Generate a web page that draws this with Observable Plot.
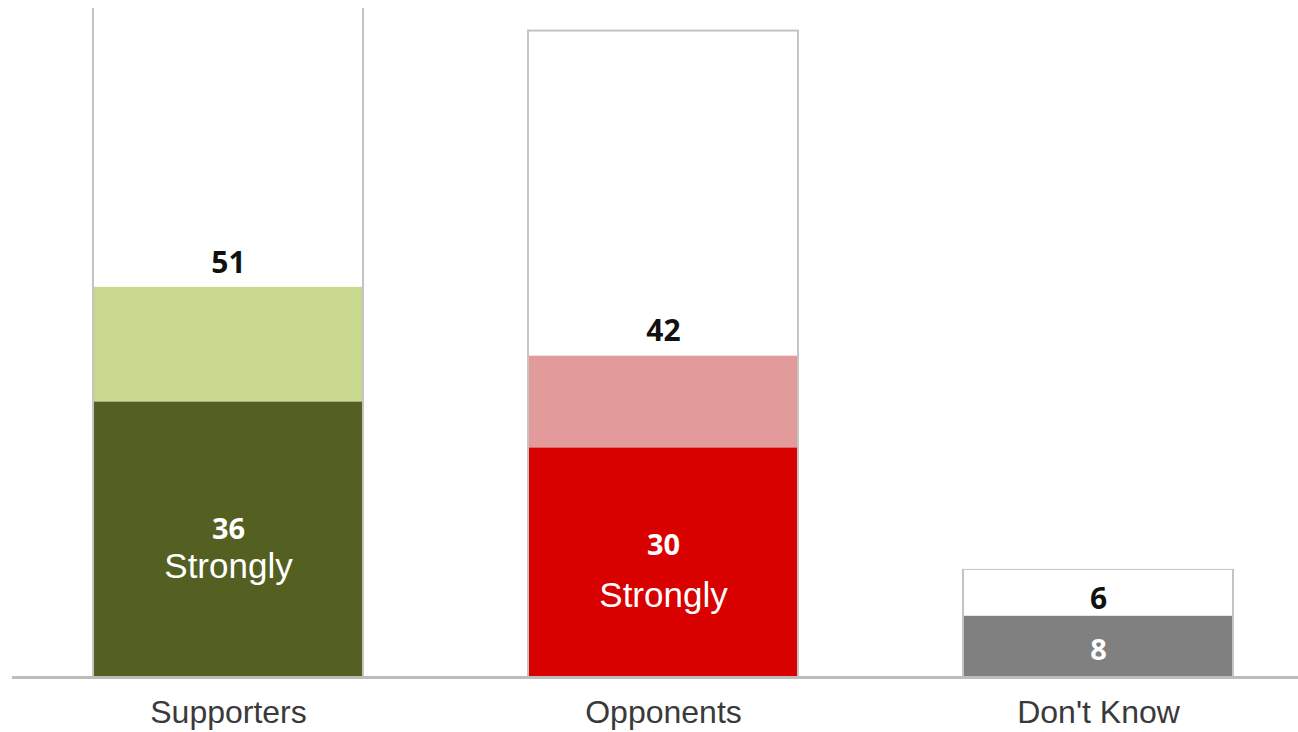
<!DOCTYPE html>
<html>
<head>
<meta charset="utf-8">
<script src="https://cdn.jsdelivr.net/npm/d3@7"></script>
<script src="https://cdn.jsdelivr.net/npm/@observablehq/plot@0.6"></script>
<style>
  html, body { margin: 0; padding: 0; background: #fff; }
  #chart { width: 1298px; height: 732px; }
</style>
</head>
<body>
<div id="chart"></div>
<script>
// ---- data ----
const categories   = ["Supporters", "Opponents", "Don't Know"];
const strongValues = [36, 30, 8];          // lower (dark) segment
const totalValues  = [51, 42, 14];         // top of the light segment / white box
const outlineTop   = [90, 84.5, 14];       // top of the grey outlined box
const topLabels    = ["51", "42", "6"];
const innerLabels  = ["36", "30", "8"];
const strongText   = ["Strongly", "Strongly", ""];
const darkColors   = ["#546021", "#d90000", "#808080"];
const lightColors  = ["#c8d88f", "#e29a9a", "#ffffff"];

const rows = categories.map((c, i) => ({
  cat: c,
  strong: strongValues[i],
  total: totalValues[i],
  outline: outlineTop[i],
  top: topLabels[i],
  inner: innerLabels[i],
  word: strongText[i],
  dark: darkColors[i],
  light: lightColors[i]
}));

const numFont = "Open Sans, DejaVu Sans, sans-serif";
const wordFont = "Liberation Sans, Arial, sans-serif";

// per-category label offsets (pixels)
const topDy   = {"Supporters": -24, "Opponents": -25, "Don't Know": -17};
const numDy   = {"Supporters": -10, "Opponents": -17, "Don't Know": 4};
const wordDy  = {"Supporters": 27, "Opponents": 33, "Don't Know": 0};

const textMarks = [];
for (const r of rows) {
  const d = [r];
  textMarks.push(Plot.text(d, {
    x: "cat",
    y: r.cat === "Don't Know" ? "strong" : "total",
    text: "top",
    dy: topDy[r.cat],
    fill: "#111",
    fontSize: 30,
    fontWeight: "bold",
    fontFamily: numFont
  }));
  textMarks.push(Plot.text(d, {
    x: "cat",
    y: (x) => x.strong / 2,
    text: "inner",
    dy: numDy[r.cat],
    fill: "#ffffff",
    fontSize: 29,
    fontWeight: "bold",
    fontFamily: numFont
  }));
  if (r.word) {
    textMarks.push(Plot.text(d, {
      x: "cat",
      y: (x) => x.strong / 2,
      text: "word",
      dy: wordDy[r.cat],
      fill: "#ffffff",
      fontSize: 35,
      fontFamily: wordFont
    }));
  }
}

const chart = Plot.plot({
  width: 1298,
  height: 732,
  marginTop: 8,
  marginBottom: 55,
  marginLeft: 12,
  marginRight: 0,
  style: { fontFamily: wordFont, background: "#fff", color: "#404040" },
  x: {
    domain: categories,
    paddingInner: 0.3793,
    paddingOuter: 0.1678,
    align: 0.555,
    axis: null
  },
  y: { domain: [0, 87.45], axis: null },
  marks: [
    Plot.barY(rows, {
      x: "cat", y: "outline",
      fill: "#ffffff", stroke: "#c4c4c4", strokeWidth: 2,
      clip: true
    }),
    Plot.barY(rows, {
      x: "cat", y1: "strong", y2: "total",
      fill: "light", insetLeft: 1, insetRight: 1
    }),
    Plot.barY(rows, {
      x: "cat", y1: 0, y2: "strong",
      fill: "dark", insetLeft: 1, insetRight: 1
    }),
    Plot.ruleY([0], { stroke: "#bcbcbc", strokeWidth: 3 }),
    Plot.axisX({
      tickSize: 0,
      tickPadding: 23,
      fontSize: 32,
      fontFamily: wordFont,
      fill: "#3a3a3a",
      label: null
    }),
    ...textMarks
  ]
});

document.getElementById("chart").appendChild(chart);
</script>
</body>
</html>
